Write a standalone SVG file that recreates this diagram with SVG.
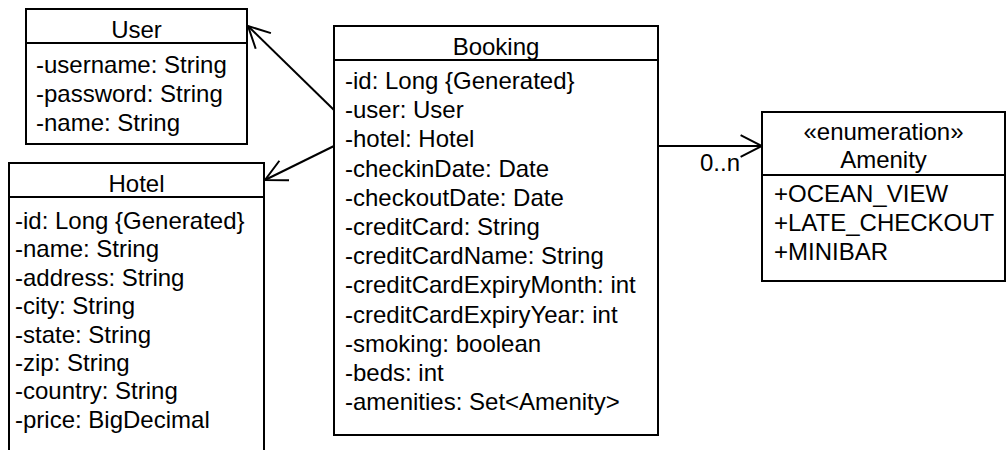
<svg xmlns="http://www.w3.org/2000/svg" width="1006" height="450" viewBox="0 0 1006 450">
  <style>
    .box { fill: #ffffff; stroke: #000000; stroke-width: 2; }
    .sep { stroke: #000000; stroke-width: 2; }
    .edge { fill: none; stroke: #000000; stroke-width: 2; }
    text { font-family: "Liberation Sans", Arial, sans-serif; font-size: 24px; fill: #000000; }
    .title { text-anchor: middle; }
  </style>
  <defs>
    <!-- open arrowhead used for navigable associations -->
    <marker id="open-arrow" markerUnits="userSpaceOnUse" viewBox="-26 -14 30 28" refX="0" refY="0" markerWidth="30" markerHeight="28" orient="auto" overflow="visible">
      <path d="M -21.4,-10.9 L 0,0 L -21.4,10.9" fill="none" stroke="#000000" stroke-width="2"/>
    </marker>
  </defs>

  <rect width="1006" height="450" fill="#ffffff"/>

  <!-- associations -->
  <g id="connectors">
    <line class="edge" x1="334" y1="110" x2="248" y2="26" marker-end="url(#open-arrow)"/>
    <line class="edge" x1="334" y1="146" x2="265" y2="180" marker-end="url(#open-arrow)"/>
    <line class="edge" x1="658" y1="146" x2="762" y2="146" marker-end="url(#open-arrow)"/>
    <text x="700" y="171">0..n</text>
  </g>

  <g id="user">
    <rect class="box" x="26" y="9" width="221" height="135"/>
    <line class="sep" x1="26" y1="43" x2="247" y2="43"/>
    <text class="title" x="136.5" y="38">User</text>
    <text x="36" y="73">-username: String</text>
    <text x="36" y="102">-password: String</text>
    <text x="36" y="131">-name: String</text>
  </g>

  <g id="hotel">
    <rect class="box" x="9" y="163" width="255" height="320"/>
    <line class="sep" x1="9" y1="197" x2="264" y2="197"/>
    <text class="title" x="136.5" y="192">Hotel</text>
    <text x="15" y="229">-id: Long {Generated}</text>
    <text x="15" y="257.4">-name: String</text>
    <text x="15" y="285.8">-address: String</text>
    <text x="15" y="314.2">-city: String</text>
    <text x="15" y="342.6">-state: String</text>
    <text x="15" y="371">-zip: String</text>
    <text x="15" y="399.4">-country: String</text>
    <text x="15" y="427.8">-price: BigDecimal</text>
  </g>

  <g id="booking">
    <rect class="box" x="334" y="26" width="324" height="409"/>
    <line class="sep" x1="334" y1="60" x2="658" y2="60"/>
    <text class="title" x="496" y="55">Booking</text>
    <text x="345" y="89">-id: Long {Generated}</text>
    <text x="345" y="118.2">-user: User</text>
    <text x="345" y="147.4">-hotel: Hotel</text>
    <text x="345" y="176.6">-checkinDate: Date</text>
    <text x="345" y="205.8">-checkoutDate: Date</text>
    <text x="345" y="235">-creditCard: String</text>
    <text x="345" y="264.2">-creditCardName: String</text>
    <text x="345" y="293.4">-creditCardExpiryMonth: int</text>
    <text x="345" y="322.6">-creditCardExpiryYear: int</text>
    <text x="345" y="351.8">-smoking: boolean</text>
    <text x="345" y="381">-beds: int</text>
    <text x="345" y="410.2">-amenities: Set&lt;Amenity&gt;</text>
  </g>

  <g id="amenity">
    <rect class="box" x="762" y="112" width="243" height="169"/>
    <line class="sep" x1="762" y1="175" x2="1005" y2="175"/>
    <text class="title" x="883.5" y="140">«enumeration»</text>
    <text class="title" x="883.5" y="168">Amenity</text>
    <text x="774" y="202">+OCEAN_VIEW</text>
    <text x="774" y="231">+LATE_CHECKOUT</text>
    <text x="774" y="260">+MINIBAR</text>
  </g>
</svg>
